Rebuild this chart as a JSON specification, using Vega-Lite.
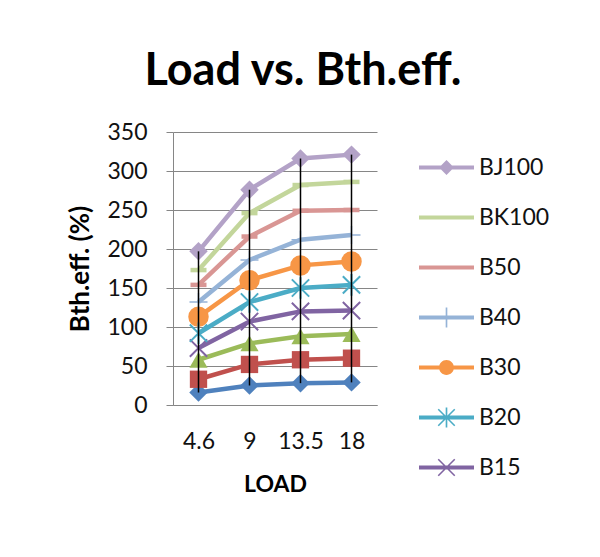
{
  "$schema": "https://vega.github.io/schema/vega-lite/v6.json",
  "autosize": {"type": "none"},
  "width": 204,
  "height": 273,
  "padding": {"left": 173, "top": 132, "right": 223, "bottom": 152},
  "background": "white",
  "title": {
    "text": "Load vs. Bth.eff.",
    "font": "Lato",
    "fontSize": 45,
    "fontWeight": "bold",
    "color": "#000000",
    "anchor": "middle",
    "frame": "group",
    "dx": 28,
    "offset": 27
  },
  "config": {
    "view": {"stroke": null},
    "axis": {
      "labelFont": "Lato",
      "labelFontSize": 23,
      "labelColor": "#111111",
      "titleFont": "Lato",
      "titleFontSize": 23,
      "titleFontWeight": "bold",
      "titleColor": "#000000",
      "domainColor": "#868686",
      "tickColor": "#868686",
      "gridColor": "#868686",
      "gridOpacity": 1
    }
  },
  "data": {
    "values": [
      {"load": "4.6", "series": "Diesel", "value": 16},
      {"load": "9", "series": "Diesel", "value": 25},
      {"load": "13.5", "series": "Diesel", "value": 28},
      {"load": "18", "series": "Diesel", "value": 29},
      {"load": "4.6", "series": "B5", "value": 33},
      {"load": "9", "series": "B5", "value": 52},
      {"load": "13.5", "series": "B5", "value": 58},
      {"load": "18", "series": "B5", "value": 60},
      {"load": "4.6", "series": "B10", "value": 58},
      {"load": "9", "series": "B10", "value": 79},
      {"load": "13.5", "series": "B10", "value": 88},
      {"load": "18", "series": "B10", "value": 91},
      {"load": "4.6", "series": "B15", "value": 73},
      {"load": "9", "series": "B15", "value": 107},
      {"load": "13.5", "series": "B15", "value": 120},
      {"load": "18", "series": "B15", "value": 121},
      {"load": "4.6", "series": "B20", "value": 92},
      {"load": "9", "series": "B20", "value": 132},
      {"load": "13.5", "series": "B20", "value": 150},
      {"load": "18", "series": "B20", "value": 154},
      {"load": "4.6", "series": "B30", "value": 113},
      {"load": "9", "series": "B30", "value": 160},
      {"load": "13.5", "series": "B30", "value": 179},
      {"load": "18", "series": "B30", "value": 184},
      {"load": "4.6", "series": "B40", "value": 132},
      {"load": "9", "series": "B40", "value": 186},
      {"load": "13.5", "series": "B40", "value": 212},
      {"load": "18", "series": "B40", "value": 218},
      {"load": "4.6", "series": "B50", "value": 154},
      {"load": "9", "series": "B50", "value": 216},
      {"load": "13.5", "series": "B50", "value": 249},
      {"load": "18", "series": "B50", "value": 250},
      {"load": "4.6", "series": "BK100", "value": 173},
      {"load": "9", "series": "BK100", "value": 246},
      {"load": "13.5", "series": "BK100", "value": 282},
      {"load": "18", "series": "BK100", "value": 286},
      {"load": "4.6", "series": "BJ100", "value": 197},
      {"load": "9", "series": "BJ100", "value": 276},
      {"load": "13.5", "series": "BJ100", "value": 316},
      {"load": "18", "series": "BJ100", "value": 321}
    ]
  },
  "encoding": {
    "x": {
      "field": "load",
      "type": "ordinal",
      "sort": ["4.6", "9", "13.5", "18"],
      "scale": {"type": "point", "padding": 0.5},
      "axis": {"title": "LOAD", "labelAngle": 0, "ticks": false, "labelPadding": 25, "titlePadding": 20, "grid": false}
    },
    "y": {
      "field": "value",
      "type": "quantitative",
      "scale": {"domain": [0, 350], "nice": false},
      "axis": {"title": "Bth.eff. (%)", "titleFontSize": 26, "values": [0, 50, 100, 150, 200, 250, 300, 350], "tickSize": 7, "labelPadding": 19, "titlePadding": 13, "grid": true}
    },
    "color": {
      "field": "series",
      "type": "nominal",
      "scale": {
        "domain": ["Diesel", "B5", "B10", "B15", "B20", "B30", "B40", "B50", "BK100", "BJ100"],
        "range": ["#4F81BD", "#C0504D", "#9BBB59", "#8064A2", "#4BACC6", "#F79646", "#95B3D7", "#D99694", "#C3D69B", "#B3A2C7"]
      },
      "legend": {
        "values": ["BJ100", "BK100", "B50", "B40", "B30", "B20", "B15"],
        "title": null,
        "orient": "right",
        "offset": 34,
        "padding": 8,
        "symbolSize": 3025,
        "labelFont": "Lato",
        "labelFontSize": 23,
        "labelColor": "#111111",
        "labelOffset": 5,
        "rowPadding": 10,
        "encode": {
          "symbols": {
            "update": {
              "fill": {"scale": "color", "field": "value"},
              "stroke": {"value": "transparent"},
              "strokeWidth": {"value": 0},
              "opacity": {"value": 1},
              "shape": {"scale": "shape", "field": "value"},
              "size": {"value": 3025}
            }
          }
        }
      }
    }
  },
  "layer": [
    {"mark": {"type": "line", "strokeWidth": 4.5}},
    {
      "transform": [{"filter": {"field": "series", "oneOf": ["Diesel", "BJ100"]}}],
      "mark": {"type": "point", "shape": "diamond", "filled": true, "size": 340, "opacity": 1}
    },
    {
      "transform": [{"filter": {"field": "series", "equal": "B5"}}],
      "mark": {"type": "point", "shape": "square", "filled": true, "size": 300, "opacity": 1}
    },
    {
      "transform": [{"filter": {"field": "series", "equal": "B10"}}],
      "mark": {"type": "point", "shape": "triangle-up", "filled": true, "size": 330, "opacity": 1}
    },
    {
      "transform": [{"filter": {"field": "series", "equal": "B30"}}],
      "mark": {"type": "point", "shape": "circle", "filled": true, "size": 420, "opacity": 1}
    },
    {
      "transform": [{"filter": {"field": "series", "equal": "B15"}}],
      "mark": {"type": "point", "shape": "M-1,-1L1,1M-1,1L1,-1", "filled": false, "size": 300, "strokeWidth": 2, "opacity": 1}
    },
    {
      "transform": [{"filter": {"field": "series", "equal": "B20"}}],
      "mark": {"type": "point", "shape": "M-1,-1L1,1M-1,1L1,-1M0,-1.25V1.25", "filled": false, "size": 300, "strokeWidth": 2, "opacity": 1}
    },
    {
      "transform": [{"filter": {"field": "series", "equal": "B40"}}],
      "mark": {"type": "point", "shape": "M-1,0H1M0,-1V1", "filled": false, "size": 324, "strokeWidth": 1.5, "opacity": 1}
    },
    {
      "transform": [{"filter": {"field": "series", "oneOf": ["B50", "BK100"]}}],
      "mark": {"type": "point", "shape": "M-1,0H1", "filled": false, "size": 256, "strokeWidth": 4.5, "opacity": 1}
    },
    {
      "mark": {"type": "point", "opacity": 0},
      "encoding": {
        "shape": {
          "field": "series",
          "type": "nominal",
          "scale": {
            "domain": ["Diesel", "B5", "B10", "B15", "B20", "B30", "B40", "B50", "BK100", "BJ100"],
            "range": [
              "M-1,-0.075H1V0.075H-1Z M-0.27,0L0,-0.27L0.27,0L0,0.27Z",
              "M-1,-0.075H1V0.075H-1Z M-0.22,-0.22H0.22V0.22H-0.22Z",
              "M-1,-0.075H1V0.075H-1Z M0,-0.27L0.27,0.22H-0.27Z",
              "M-1,-0.075H1V0.075H-1Z M-0.28,-0.32L0.32,0.28L0.28,0.32L-0.32,-0.28Z M-0.32,0.28L0.28,-0.32L0.32,-0.28L-0.28,0.32Z",
              "M-1,-0.075H1V0.075H-1Z M-0.28,-0.32L0.32,0.28L0.28,0.32L-0.32,-0.28Z M-0.32,0.28L0.28,-0.32L0.32,-0.28L-0.28,0.32Z M-0.03,-0.36H0.03V0.36H-0.03Z",
              "M-1,-0.075H1V0.075H-1Z M-0.27,0A0.27,0.27 0 1,1 0.27,0A0.27,0.27 0 1,1 -0.27,0Z",
              "M-1,-0.075H1V0.075H-1Z M-0.03,-0.36H0.03V0.36H-0.03Z",
              "M-1,-0.075H1V0.075H-1Z",
              "M-1,-0.075H1V0.075H-1Z",
              "M-1,-0.075H1V0.075H-1Z M-0.27,0L0,-0.27L0.27,0L0,0.27Z"
            ]
          },
          "legend": {
            "values": ["BJ100", "BK100", "B50", "B40", "B30", "B20", "B15"],
            "title": null,
            "orient": "right",
            "offset": 34,
            "padding": 8,
            "symbolSize": 3025,
            "labelFont": "Lato",
            "labelFontSize": 23,
            "labelColor": "#111111",
            "labelOffset": 5,
            "rowPadding": 10
          }
        }
      }
    },
    {
      "transform": [{"aggregate": [{"op": "min", "field": "value", "as": "lo"}, {"op": "max", "field": "value", "as": "hi"}], "groupby": ["load"]}],
      "mark": {"type": "rule", "color": "#000000", "strokeWidth": 1.5},
      "encoding": {
        "y": {"field": "lo", "type": "quantitative"},
        "y2": {"field": "hi"},
        "color": {"value": "#000000"}
      }
    }
  ]
}
